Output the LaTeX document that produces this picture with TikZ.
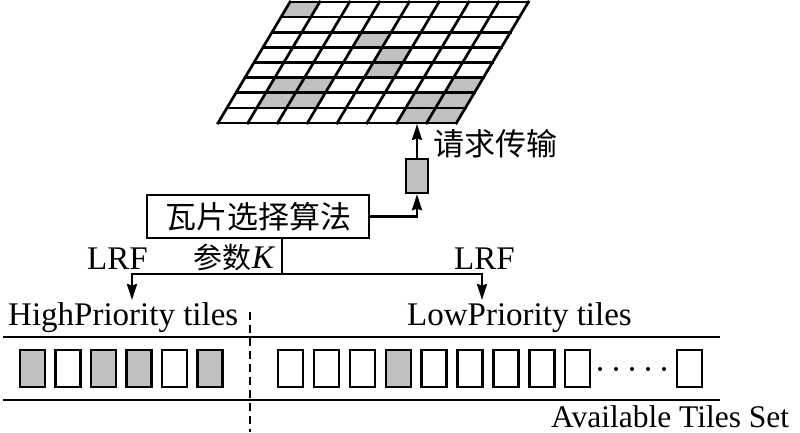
\documentclass[tikz,border=0pt]{standalone}
\usepackage{fontspec}
\setmainfont{Liberation Serif}
\newfontfamily\cjk{Noto Sans CJK SC}
\usetikzlibrary{arrows.meta}
\definecolor{tilegray}{RGB}{192,192,192}
\begin{document}
\begin{tikzpicture}[x=1pt,y=-1pt,
  lbl/.style={font=\fontsize{33}{38}\selectfont, inner sep=0pt},
  cjklbl/.style={font=\fontsize{31}{36}\selectfont\cjk, inner sep=0pt},
  tile/.style={draw, line width=2.4pt, minimum width=25pt, minimum height=37pt, inner sep=0pt},
  gtile/.style={tile, fill=tilegray},
  conn/.style={line width=2.4pt},
  arr/.style={conn, -{Stealth[length=16pt,width=10pt,inset=1.5pt]}},
]
\useasboundingbox (0,0) rectangle (800,432);

% tile grid (perspective plane)
\begin{scope}[shift={(290,2)}, x={(29.8pt,0pt)}, y={(-9pt,-15.125pt)}, line width=2.7pt, line cap=rect]
  \foreach \c/\r in {0/0,3/2,4/3,4/4,1/5,2/5,7/5,1/6,2/6,6/6,7/6,6/7,7/7}
    \fill[tilegray] (\c,\r) -- ++(1,0) -- ++(0,1) -- ++(-1,0) -- cycle;
  \foreach \i in {0,...,8} {
    \draw (\i,0) -- (\i,8);
    \draw (0,\i) -- (8,\i);
  }
\end{scope}

\coordinate (gridbot) at (417,124);
\node[draw, conn, fill=tilegray, minimum width=22pt, minimum height=34pt, inner sep=0pt] (req) at (417,176) {};
\node[cjklbl, anchor=west] (reqlbl) at (433,144) {请求传输};
\draw[arr] (req.north) -- (gridbot);

\node[draw, conn, cjklbl, minimum width=222pt, minimum height=43pt] (algo) at (258,216.5) {瓦片选择算法};
\draw[arr] (algo.east) -| (req.south);

\coordinate (split) at (282,274);
\coordinate (hpTip) at (132,300);
\coordinate (lpTip) at (482,300);
\draw[conn] (algo.south -| split) -- (split);
\draw[arr] (split) -| (hpTip);
\draw[arr] (split) -| (lpTip);

\node[lbl, anchor=base west] (lrf1) at (87,269) {LRF};
\node[lbl, anchor=base west] (lrf2) at (454,269) {LRF};
\node[anchor=base east, inner sep=0pt] (param) at (274,268) {{\fontsize{29}{34}\selectfont\cjk 参数}{\fontsize{33}{38}\selectfont\itshape K}};

\node[lbl, anchor=base west] (hp) at (8,325) {HighPriority tiles};
\node[lbl, anchor=base west] (lp) at (407,325) {LowPriority tiles};
\node[lbl, font=\fontsize{31.5}{36}\selectfont, anchor=base west] (avail) at (551,427) {Available Tiles Set};

\coordinate (l1a) at (3,337);
\coordinate (l1b) at (720,337);
\coordinate (l2a) at (3,400);
\coordinate (l2b) at (720,400);
\draw[conn] (l1a) -- (l1b);
\draw[conn] (l2a) -- (l2b);
\coordinate (dashtop) at (250,312);
\coordinate (dashbot) at (250,432);
\draw[conn, dash pattern=on 8pt off 5pt] (dashtop) -- (dashbot);

\foreach \x/\s [count=\i] in {20/gtile,55.5/tile,91/gtile,126.5/gtile,162/tile,197.5/gtile}
  \node[\s] (h\i) at (\x+12.5,368.5) {};
\foreach \s [count=\i from 0] in {tile,tile,tile,gtile,tile,tile,tile,tile,tile}
  \node[\s] (r\i) at (290.5+35.9*\i,368.5) {};
\node[tile] (rlast) at (689.5,368.5) {};
\foreach \i in {0,...,4}
  \fill (600+16*\i,369) circle (2pt);
\end{tikzpicture}
\end{document}
